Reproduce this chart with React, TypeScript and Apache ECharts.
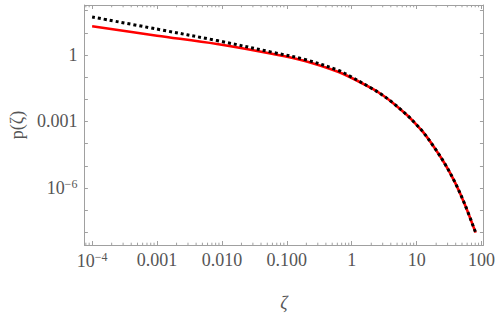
import React, { useEffect, useRef } from "react";
import * as echarts from "echarts";

// ---- data ----
const zeta = [1e-4, 1e-3, 0.0084, 0.0614, 0.196, 0.629, 0.933, 2.01, 2.85, 4.04, 7.23, 9.66, 12.8, 19.4, 27.5, 39, 55.3, 81.1];
const redP = [19.6, 7.41, 3.12, 1.099, 0.522, 0.1714, 0.1012, 0.0316, 0.01692, 0.00803, 0.001863, 7.77e-4, 3.11e-4, 5.75e-5, 1.172e-5, 1.774e-6, 1.805e-7, 9.62e-9];
const blackP = [51.9, 14.71, 4.46, 1.301, 0.6114, 0.1989, 0.1117, 0.0316, 0.01692, 0.00803, 0.001863, 7.77e-4, 3.11e-4, 5.75e-5, 1.172e-5, 1.774e-6, 1.805e-7, 9.62e-9];

// axis ranges
const X_MIN = 7.6e-5;
const X_MAX = 107;
const Y_MIN = 2.65e-9;
const Y_MAX = 180;

// tick labels (exponent -> label)
const xTickExps = [-4, -3, -2, -1, 0, 1, 2];
const xTickLabels = ["{b|10}{s|\u22124}", "0.001", "0.010", "0.100", "1", "10", "100"];
const yTickExps = [0, -3, -6];
const yTickLabels = ["1", "0.001", "{b|10}{s|\u22126}"];

// minor tick multipliers and decades on the x axis
const minorMults = [2, 3, 4, 5, 6, 7, 8, 9];
const minorDecades = [-5, -4, -3, -2, -1, 0, 1];

const FONT = "Liberation Serif";
const AXIS_COLOR = "#a0a0a0";
const LABEL_COLOR = "#555555";

function labelFor(v: number, exps: number[], labels: string[]) {
  const r = Math.round(v);
  if (Math.abs(v - r) > 1e-6) return "";
  const i = exps.indexOf(r);
  return i >= 0 ? labels[i] : "";
}

const rich = {
  b: { fontFamily: FONT, fontSize: 18, color: LABEL_COLOR },
  s: { fontFamily: FONT, fontSize: 12, color: LABEL_COLOR, verticalAlign: "top", padding: [0, 0, 8, 0] },
};

export default function App() {
  const ref = useRef<HTMLDivElement>(null);
  useEffect(() => {
    if (!ref.current) return;
    const chart = echarts.init(ref.current, null, { renderer: "svg" });
    const minorTicks: number[][] = [];
    minorDecades.forEach((d) =>
      minorMults.forEach((m) => {
        const v = m * Math.pow(10, d);
        if (v > X_MIN && v < X_MAX) minorTicks.push([v, 1]);
      })
    );
    const lx0 = Math.log10(X_MIN), lx1 = Math.log10(X_MAX);
    const ly0 = Math.log10(Y_MIN), ly1 = Math.log10(Y_MAX);
    const hidden = { show: false };
    const frameLine = { show: true, onZero: false, lineStyle: { color: AXIS_COLOR, width: 1 } };
    chart.setOption({
      animation: false,
      backgroundColor: "#ffffff",
      grid: { left: 79, right: 14, top: 5, bottom: 61, containLabel: false },
      xAxis: [
        {
          type: "log", min: X_MIN, max: X_MAX, position: "bottom",
          axisLine: frameLine,
          axisTick: hidden, axisLabel: hidden, splitLine: hidden, minorTick: hidden,
        },
        {
          type: "value", min: lx0, max: lx1, position: "bottom", splitNumber: 6,
          axisLine: { show: false, onZero: false }, splitLine: hidden,
          axisTick: { show: true, inside: true, length: 4, lineStyle: { color: AXIS_COLOR } },
          axisLabel: {
            show: true, interval: 0, margin: 6, color: LABEL_COLOR, fontFamily: FONT, fontSize: 18,
            formatter: (v: number) => labelFor(v, xTickExps, xTickLabels), rich,
          },
          name: "\u03b6", nameLocation: "middle", nameGap: 49,
          nameTextStyle: { fontFamily: FONT, fontSize: 18, fontStyle: "italic", color: LABEL_COLOR },
        },
        {
          type: "value", min: lx0, max: lx1, position: "top", splitNumber: 6,
          axisLine: frameLine, splitLine: hidden,
          axisTick: { show: true, inside: true, length: 4, lineStyle: { color: AXIS_COLOR } },
          axisLabel: hidden,
        },
      ],
      yAxis: [
        {
          type: "log", min: Y_MIN, max: Y_MAX, position: "left",
          axisLine: frameLine,
          axisTick: hidden, axisLabel: hidden, splitLine: hidden, minorTick: hidden,
        },
        {
          type: "value", min: ly0, max: ly1, position: "left", splitNumber: 11,
          axisLine: { show: false, onZero: false }, splitLine: hidden,
          axisTick: { show: true, inside: true, length: 3.5, lineStyle: { color: AXIS_COLOR } },
          axisLabel: {
            show: true, interval: 0, margin: 7, color: LABEL_COLOR, fontFamily: FONT, fontSize: 18,
            formatter: (v: number) => labelFor(v, yTickExps, yTickLabels), rich,
          },
          name: "p(\u03b6)", nameLocation: "middle", nameGap: 54,
          nameTextStyle: { fontFamily: FONT, fontSize: 18, color: LABEL_COLOR },
        },
        {
          type: "value", min: ly0, max: ly1, position: "right", splitNumber: 11,
          axisLine: frameLine, splitLine: hidden,
          axisTick: { show: true, inside: true, length: 3.5, lineStyle: { color: AXIS_COLOR } },
          axisLabel: hidden,
        },
      ],
      series: [
        {
          type: "custom", xAxisIndex: 0, yAxisIndex: 0, silent: true, clip: false,
          data: minorTicks,
          renderItem: (params: any, api: any) => {
            const x = api.value(0);
            const pb = api.coord([x, Y_MIN]);
            const pt = api.coord([x, Y_MAX]);
            const st = { stroke: AXIS_COLOR, lineWidth: 1 };
            return {
              type: "group",
              children: [
                { type: "line", shape: { x1: pb[0], y1: pb[1], x2: pb[0], y2: pb[1] - 2.3 }, style: st },
                { type: "line", shape: { x1: pt[0], y1: pt[1], x2: pt[0], y2: pt[1] + 2.3 }, style: st },
              ],
            };
          },
        },
        {
          type: "line", xAxisIndex: 0, yAxisIndex: 0, showSymbol: false, smooth: 0.35,
          data: zeta.map((z, i) => [z, redP[i]]),
          lineStyle: { color: "#ff0000", width: 2.6 },
        },
        {
          type: "line", xAxisIndex: 0, yAxisIndex: 0, showSymbol: false, smooth: 0.35,
          data: zeta.map((z, i) => [z, blackP[i]]),
          lineStyle: { color: "#000000", width: 3, type: [3, 3], cap: "butt" },
        },
      ],
    });
    return () => chart.dispose();
  }, []);
  return <div ref={ref} style={{ width: 498, height: 317, position: "absolute", left: 0, top: 0 }} />;
}
